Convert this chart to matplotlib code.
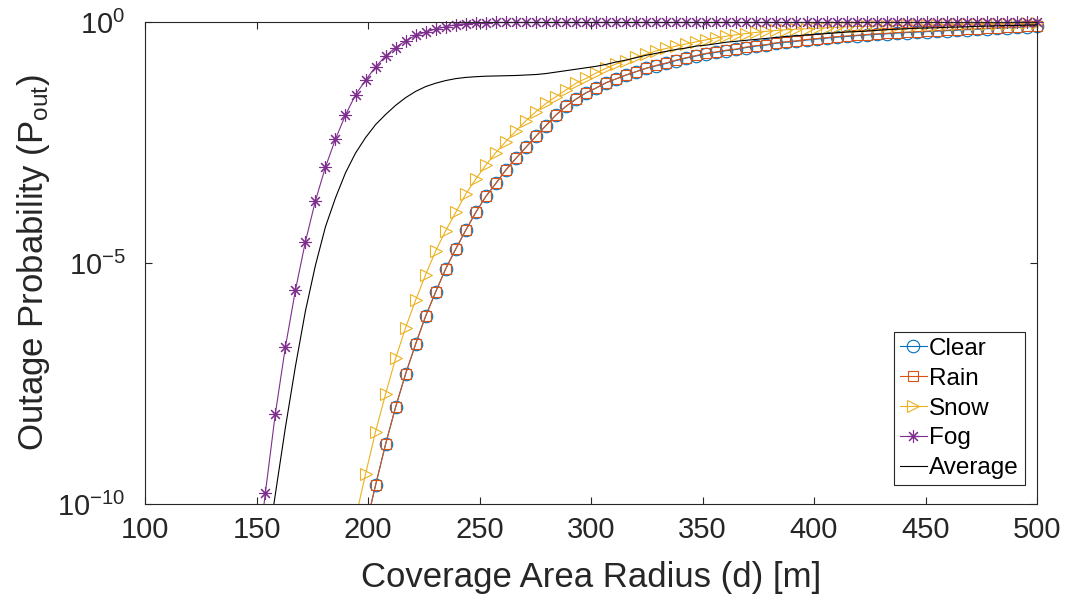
import numpy as np
import matplotlib.pyplot as plt
from matplotlib.lines import Line2D
from matplotlib.ticker import NullLocator

plt.rcParams['font.family'] = ['Liberation Sans', 'DejaVu Sans']
plt.rcParams['mathtext.fontset'] = 'custom'
plt.rcParams['mathtext.rm'] = 'Liberation Sans'
plt.rcParams['mathtext.it'] = 'Liberation Sans:italic'

# radius grid (one marker per sample)
d = np.linspace(100, 500, 90)

# log10(Pout); each list starts at the index given
fog_start = 11
log_fog = [-11.5, -9.78, -8.13, -6.75, -5.57, -4.56, -3.71, -3.01, -2.43, -1.93,
           -1.51, -1.21, -0.93, -0.705, -0.53, -0.39, -0.28, -0.21, -0.145, -0.098,
           -0.056, -0.035, -0.02, -0.012, -0.007, -0.004, -0.002,
           -0.001, -0.001, -0.001, 0.0, 0.0, 0.0, 0.0, 0.0, 0.0, 0.0, 0.0, 0.0, 0.0,
           0.0, 0.0, 0.0, 0.0, 0.0, 0.0, 0.0, 0.0, 0.0, 0.0, 0.0, 0.0, 0.0, 0.0,
           0.0, 0.0, 0.0, 0.0, 0.0, 0.0, 0.0, 0.0, 0.0, 0.0, 0.0, 0.0, 0.0, 0.0,
           0.0, 0.0, 0.0, 0.0, 0.0, 0.0, 0.0, 0.0, 0.0, 0.0, 0.0]

clear_start = 22
log_clear = [-10.5, -9.61, -8.76, -7.99, -7.30, -6.68, -6.10, -5.60, -5.12, -4.71,
             -4.32, -3.95, -3.62, -3.35, -3.07, -2.83, -2.60, -2.37, -2.15, -1.93,
             -1.75, -1.60, -1.47, -1.37, -1.26, -1.18, -1.10, -1.03, -0.96, -0.91,
             -0.86, -0.80, -0.75, -0.705, -0.66, -0.63, -0.595, -0.57, -0.53, -0.50,
             -0.48, -0.44, -0.42, -0.40, -0.375, -0.355, -0.335, -0.315, -0.30, -0.285,
             -0.27, -0.255, -0.245, -0.23, -0.22, -0.21, -0.20, -0.19, -0.18, -0.17,
             -0.16, -0.15, -0.14, -0.13, -0.12, -0.11, -0.10, -0.09]

rain_start = 22
log_rain = [-10.5, -9.61, -8.76, -7.99, -7.30, -6.68, -6.10, -5.60, -5.12, -4.71,
            -4.32, -3.95, -3.62, -3.35, -3.07, -2.83, -2.60, -2.37, -2.15, -1.93,
            -1.75, -1.60, -1.47, -1.37, -1.26, -1.18, -1.10, -1.03, -0.96, -0.90,
            -0.85, -0.79, -0.74, -0.695, -0.65, -0.62, -0.585, -0.56, -0.52, -0.49,
            -0.47, -0.43, -0.41, -0.39, -0.365, -0.345, -0.325, -0.305, -0.29, -0.275,
            -0.26, -0.245, -0.235, -0.22, -0.21, -0.20, -0.19, -0.18, -0.17, -0.16,
            -0.15, -0.14, -0.13, -0.12, -0.11, -0.10, -0.09, -0.08]

snow_start = 21
log_snow = [-10.3, -9.38, -8.50, -7.72, -6.98, -6.34, -5.77, -5.24, -4.75, -4.33,
            -3.95, -3.57, -3.26, -2.97, -2.71, -2.48, -2.26, -2.05, -1.86, -1.69,
            -1.55, -1.41, -1.27, -1.17, -1.06, -0.96, -0.87, -0.80, -0.73, -0.67,
            -0.60, -0.55, -0.50, -0.455, -0.41, -0.37, -0.33, -0.295, -0.265, -0.24,
            -0.215, -0.195, -0.175, -0.16, -0.15, -0.14, -0.13, -0.12, -0.11, -0.10,
            -0.095, -0.09, -0.085, -0.08, -0.075, -0.07, -0.065, -0.06, -0.056, -0.052,
            -0.048, -0.045, -0.042, -0.039, -0.036, -0.034, -0.032, -0.03, -0.028]

avg_start = 12
log_avg = [-11.2, -9.80, -8.42, -7.15, -6.00, -5.05, -4.25, -3.65, -3.13, -2.72,
           -2.40, -2.13, -1.92, -1.73, -1.57, -1.44, -1.34, -1.27, -1.215, -1.175,
           -1.15, -1.135, -1.125, -1.12, -1.115, -1.11, -1.10, -1.09, -1.07, -1.04,
           -1.01, -0.98, -0.95, -0.92, -0.88, -0.83, -0.79, -0.74, -0.69, -0.65,
           -0.61, -0.57, -0.54, -0.50, -0.48, -0.45, -0.42, -0.40, -0.38, -0.36,
           -0.34, -0.32, -0.30, -0.285, -0.27, -0.255, -0.24, -0.225, -0.21, -0.20,
           -0.19, -0.175, -0.16, -0.15, -0.14, -0.13, -0.125, -0.12, -0.11, -0.105,
           -0.10, -0.09, -0.085, -0.08, -0.075, -0.07, -0.065, -0.06]

labels = ['Clear', 'Rain', 'Snow', 'Fog', 'Average']
colors = ['#0072BD', '#D95319', '#EDB120', '#7E2F8E', 'black']
markers = ['o', 's', '>', (8, 2, 0), None]
msizes = [9, 6.5, 8.5, 9, 0]
starts = [clear_start, rain_start, snow_start, fog_start, avg_start]
values = [log_clear, log_rain, log_snow, log_fog, log_avg]

fig = plt.figure(figsize=(10.68, 5.99), dpi=100)
ax = fig.add_axes([0.1358, 0.1586, 0.8352, 0.8047])

handles = []
for lab, col, mk, ms, st, vals in zip(labels, colors, markers, msizes, starts, values):
    x = d[st:]
    y = 10.0 ** np.array(vals)
    ax.plot(x, y, color=col, lw=0.8)
    if mk is not None:
        # first sample lies below 1e-10, so no marker there
        ax.plot(x[1:], y[1:], ls='none', marker=mk, ms=ms, mfc='none',
                mec=col, mew=0.8, clip_on=False)
    handles.append(Line2D([], [], color=col, lw=0.8, marker=mk, ms=ms,
                          mfc='none', mec=col, mew=0.8))

ax.set_yscale('log')
ax.set_xlim(100, 500)
ax.set_ylim(1e-10, 1)
ax.set_xticks(np.arange(100, 501, 50))
ax.set_yticks([1e-10, 1e-5, 1])
ax.set_yticklabels([r'$10^{-10}$', r'$10^{-5}$', r'$10^{0}$'])
ax.yaxis.set_minor_locator(NullLocator())

for s in ax.spines.values():
    s.set_color('#262626')
    s.set_linewidth(0.8)
ax.tick_params(direction='in', top=True, right=True, length=5, width=0.8,
               colors='#262626', labelsize=21, labelcolor='#262626')
ax.tick_params(axis='x', pad=9)
ax.tick_params(axis='y', pad=14)

ax.set_xlabel('Coverage Area Radius (d) [m]', fontsize=25, color='#262626', labelpad=12)
ax.set_ylabel(r'Outage Probability (P$_{\mathrm{out}}$)', fontsize=25, color='#262626', labelpad=4)

leg = ax.legend(handles, labels, loc='lower right', bbox_to_anchor=(0.9865, 0.039),
                fontsize=17.5, frameon=True, fancybox=False, framealpha=1,
                edgecolor='#262626', handlelength=1.1, handletextpad=0.1,
                labelspacing=0.32, borderpad=0.25, borderaxespad=0)
leg.get_frame().set_linewidth(0.8)

fig.savefig('out.png', dpi=100)
